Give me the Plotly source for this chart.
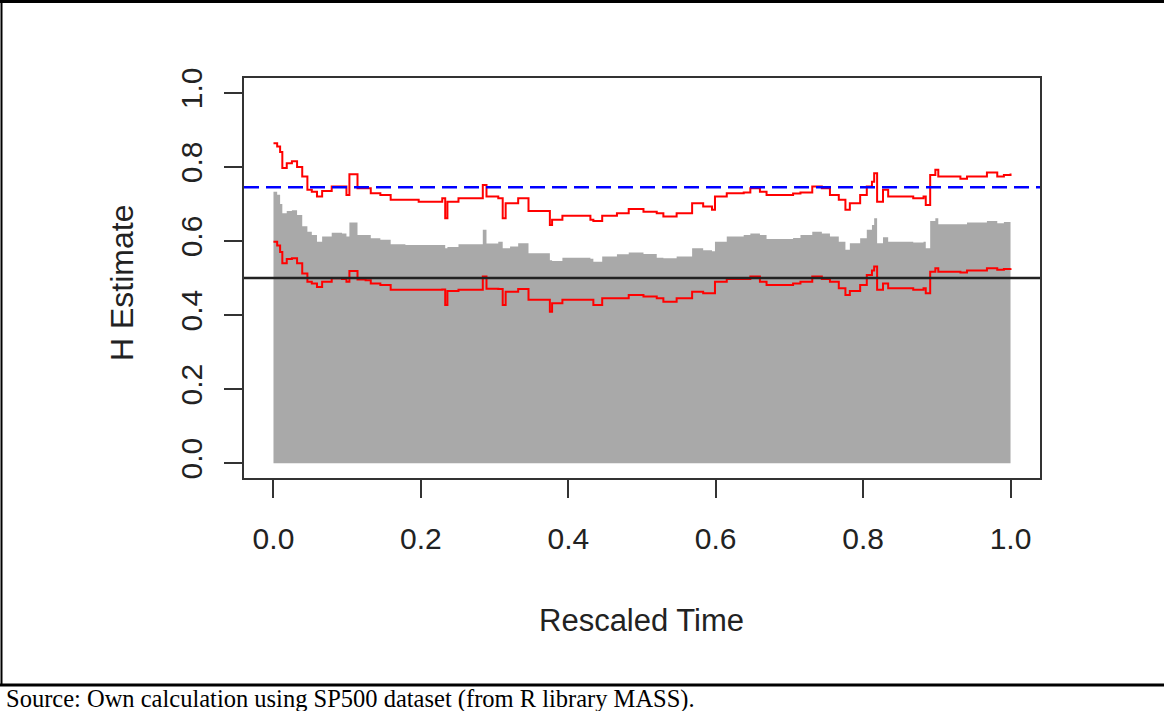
import plotly.graph_objects as go

# ---- data ----
t = [0.000, 0.005, 0.009, 0.012, 0.018, 0.025, 0.032, 0.039, 0.046, 0.052,
     0.059, 0.066, 0.079, 0.093, 0.099, 0.103, 0.114, 0.125, 0.132, 0.145,
     0.159, 0.179, 0.197, 0.229, 0.233, 0.236, 0.251, 0.269, 0.284, 0.289,
     0.305, 0.311, 0.315, 0.321, 0.332, 0.346, 0.375, 0.378, 0.392, 0.430,
     0.434, 0.446, 0.466, 0.482, 0.502, 0.520, 0.529, 0.547, 0.568, 0.583,
     0.595, 0.599, 0.615, 0.638, 0.647, 0.660, 0.669, 0.705, 0.715, 0.731,
     0.744, 0.755, 0.767, 0.776, 0.782, 0.796, 0.805, 0.812, 0.815, 0.819,
     0.827, 0.834, 0.868, 0.882, 0.885, 0.891, 0.898, 0.902, 0.932, 0.941,
     0.968, 0.982, 0.991, 1.000]

h_upper = [0.864, 0.855, 0.840, 0.797, 0.810, 0.815, 0.800, 0.774, 0.738, 0.733,
           0.720, 0.735, 0.747, 0.747, 0.724, 0.780, 0.742, 0.742, 0.729, 0.724,
           0.711, 0.711, 0.706, 0.715, 0.661, 0.706, 0.715, 0.715, 0.751, 0.720,
           0.715, 0.661, 0.702, 0.702, 0.715, 0.681, 0.643, 0.657, 0.668, 0.657,
           0.654, 0.668, 0.675, 0.686, 0.679, 0.675, 0.666, 0.675, 0.702, 0.693,
           0.684, 0.720, 0.729, 0.731, 0.742, 0.733, 0.724, 0.728, 0.731, 0.747,
           0.742, 0.724, 0.711, 0.684, 0.702, 0.724, 0.747, 0.760, 0.783, 0.706,
           0.738, 0.720, 0.715, 0.720, 0.697, 0.778, 0.792, 0.774, 0.768, 0.774,
           0.785, 0.774, 0.778, 0.782]

h_est = [0.733, 0.725, 0.700, 0.675, 0.681, 0.683, 0.670, 0.640, 0.625, 0.616,
         0.598, 0.612, 0.622, 0.620, 0.612, 0.650, 0.616, 0.616, 0.607, 0.603,
         0.591, 0.589, 0.589, 0.589, 0.580, 0.584, 0.591, 0.591, 0.630, 0.593,
         0.598, 0.580, 0.580, 0.585, 0.594, 0.567, 0.548, 0.546, 0.555, 0.552,
         0.544, 0.558, 0.564, 0.569, 0.565, 0.555, 0.553, 0.558, 0.580, 0.575,
         0.572, 0.598, 0.612, 0.616, 0.620, 0.616, 0.605, 0.608, 0.616, 0.625,
         0.620, 0.612, 0.598, 0.576, 0.594, 0.607, 0.630, 0.643, 0.661, 0.594,
         0.610, 0.598, 0.596, 0.598, 0.580, 0.654, 0.661, 0.645, 0.645, 0.650,
         0.654, 0.648, 0.651, 0.654]

h_lower = [0.598, 0.588, 0.570, 0.540, 0.551, 0.553, 0.540, 0.512, 0.490, 0.485,
           0.476, 0.490, 0.499, 0.497, 0.490, 0.519, 0.496, 0.494, 0.485, 0.481,
           0.468, 0.468, 0.468, 0.469, 0.427, 0.465, 0.468, 0.468, 0.504, 0.471,
           0.470, 0.427, 0.463, 0.463, 0.470, 0.441, 0.409, 0.432, 0.441, 0.441,
           0.427, 0.445, 0.445, 0.454, 0.450, 0.445, 0.436, 0.445, 0.463, 0.459,
           0.459, 0.490, 0.497, 0.497, 0.504, 0.490, 0.481, 0.485, 0.490, 0.504,
           0.497, 0.490, 0.472, 0.454, 0.465, 0.481, 0.508, 0.520, 0.531, 0.468,
           0.485, 0.472, 0.468, 0.472, 0.459, 0.517, 0.526, 0.517, 0.515, 0.520,
           0.526, 0.522, 0.524, 0.526]

ref_blue = 0.745
ref_black = 0.5
tick_vals = [0.0, 0.2, 0.4, 0.6, 0.8, 1.0]
tick_text = ["0.0", "0.2", "0.4", "0.6", "0.8", "1.0"]

# ---- layout geometry (pixels) ----
W, H = 1164, 711
L, R, T, B = 244, 1040, 78, 478


def px(xp):
    return (xp - L) / (R - L)


def py(yp):
    return (B - yp) / (B - T)


FONT = "Liberation Sans, Arial, sans-serif"
AXC = "#333333"

fig = go.Figure()
fig.add_trace(go.Scatter(x=t, y=h_est, mode="lines", line=dict(width=0, shape="hv"),
                         fill="tozeroy", fillcolor="#a9a9a9", hoverinfo="skip",
                         showlegend=False))
fig.add_trace(go.Scatter(x=t, y=h_upper, mode="lines",
                         line=dict(color="#ff0000", width=2, shape="hv"),
                         showlegend=False))
fig.add_trace(go.Scatter(x=t, y=h_lower, mode="lines",
                         line=dict(color="#ff0000", width=2, shape="hv"),
                         showlegend=False))

axis_common = dict(
    showgrid=False, zeroline=False, showline=True, mirror=True,
    linecolor=AXC, linewidth=2, ticks="outside", ticklen=18, tickwidth=2,
    tickcolor=AXC, tickvals=tick_vals, ticktext=tick_text,
    tickfont=dict(family=FONT, size=30, color="#222222"),
)
fig.update_xaxes(range=[-0.04, 1.04], ticklabelstandoff=15, **axis_common)
fig.update_yaxes(range=[-0.04, 1.04], tickangle=-90, ticklabelstandoff=10, **axis_common)

annotations = [
    dict(text="Rescaled Time", x=px(641), y=py(620), xref="paper", yref="paper",
         showarrow=False, xanchor="center", yanchor="middle",
         font=dict(family=FONT, size=31, color="#222222")),
    dict(text="H Estimate", x=px(122), y=py(283), xref="paper", yref="paper",
         showarrow=False, xanchor="center", yanchor="middle", textangle=-90,
         font=dict(family=FONT, size=32, color="#222222")),
    dict(text="Source: Own calculation using SP500 dataset (from R library MASS).",
         x=px(4), y=py(699), xref="paper", yref="paper", showarrow=False,
         xanchor="left", yanchor="middle",
         font=dict(family="Liberation Serif, Times New Roman, serif", size=24.5,
                   color="#000000")),
]

# outer frame: top, left and the separator line above the source note
shapes = [
    dict(type="line", xref="paper", yref="paper", x0=px(0), x1=px(W), y0=py(1.5),
         y1=py(1.5), line=dict(color="#000000", width=3)),
    dict(type="line", xref="paper", yref="paper", x0=px(1.5), x1=px(1.5), y0=py(0),
         y1=py(685), line=dict(color="#000000", width=2)),
    dict(type="line", xref="paper", yref="paper", x0=px(0), x1=px(W), y0=py(685),
         y1=py(685), line=dict(color="#000000", width=3)),
]

fig.update_layout(
    width=W, height=H, margin=dict(l=L, r=W - R, t=T, b=H - B, pad=0),
    paper_bgcolor="white", plot_bgcolor="white",
    annotations=annotations, shapes=shapes, showlegend=False,
)

# reference lines (added after the frame so they are not overwritten)
fig.add_hline(y=ref_blue, line=dict(color="#0000ff", width=2.5, dash="15px,7px"))
fig.add_hline(y=ref_black, line=dict(color="#222222", width=2.5))

fig.write_html(
    "out.html",
    config={"displayModeBar": False},
    post_script="document.body.style.margin='0px';document.body.style.overflow='hidden';",
)
